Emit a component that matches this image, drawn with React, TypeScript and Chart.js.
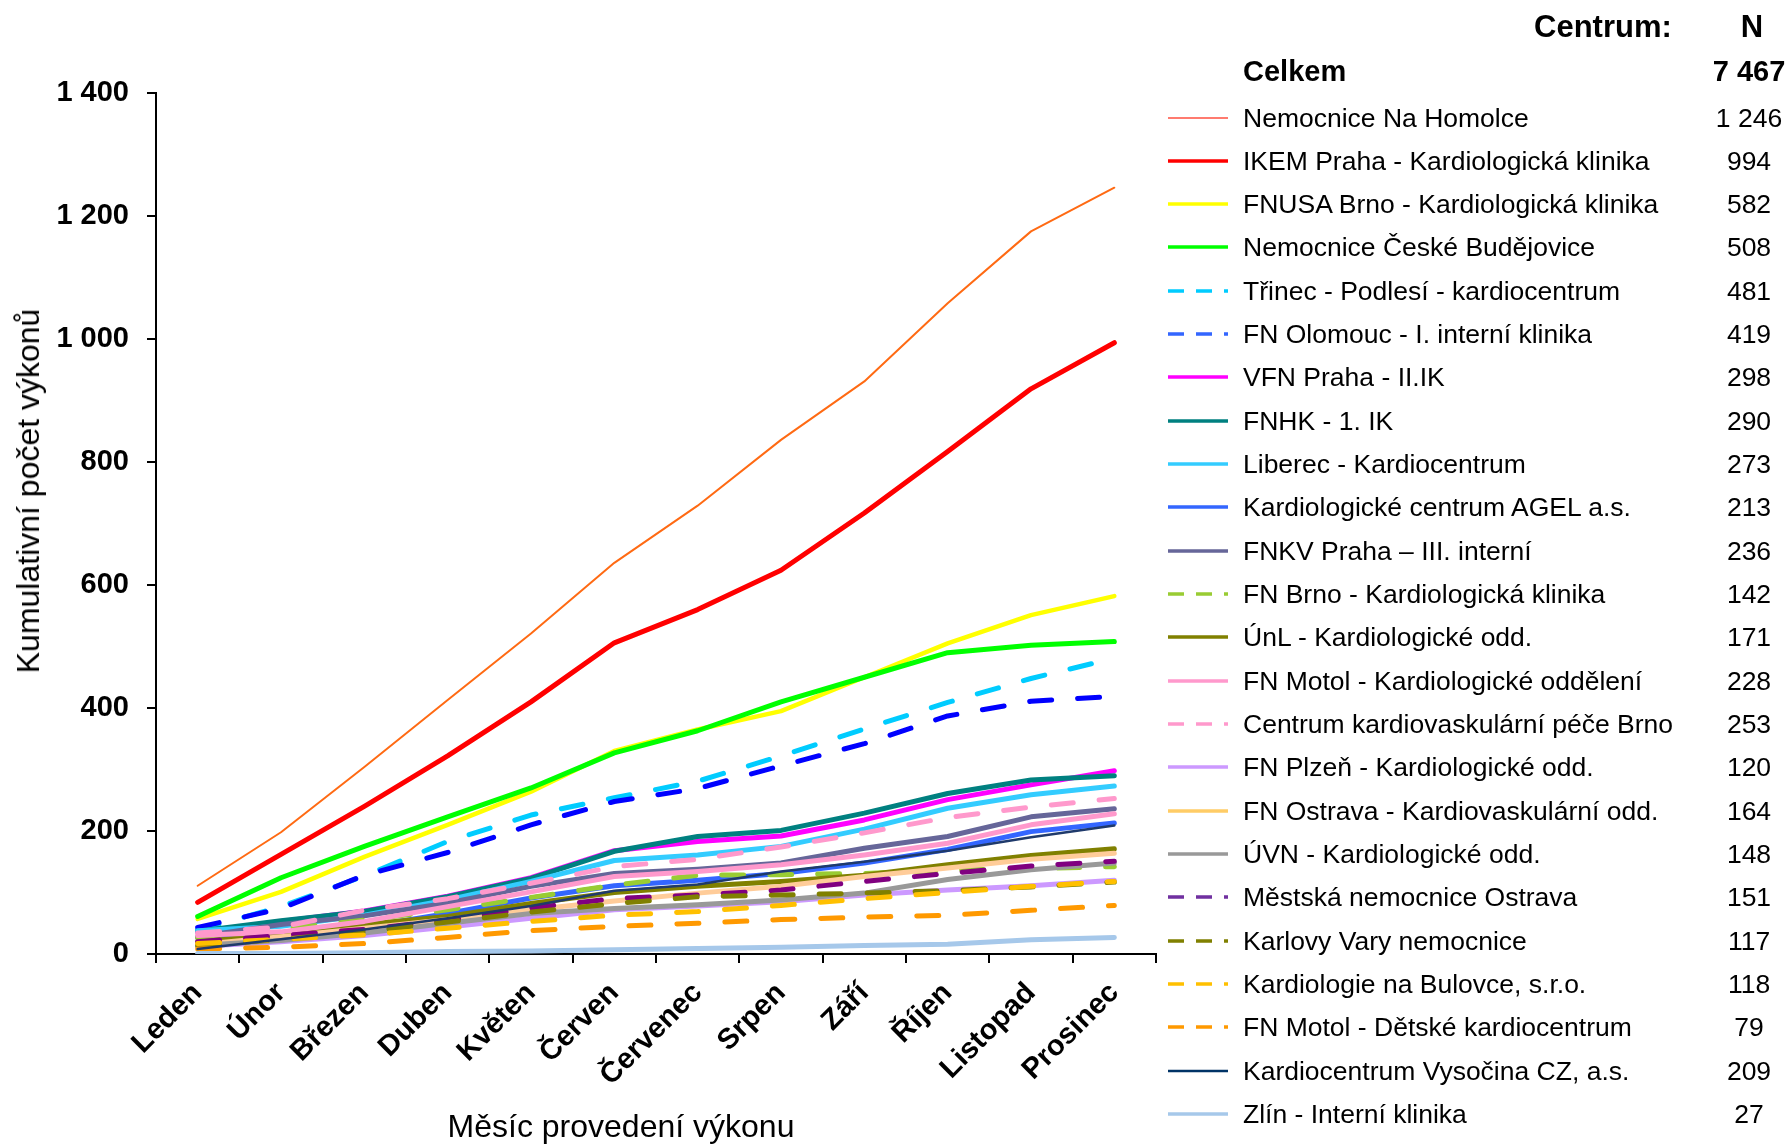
import React, { useEffect, useRef } from "react";
import { Chart, registerables } from "chart.js";

Chart.register(...registerables);

const FONT = '"Liberation Sans", Arial, Helvetica, sans-serif';

// ---------- data ----------
const months = ["Leden", "Únor", "Březen", "Duben", "Květen", "Červen", "Červenec", "Srpen", "Září", "Říjen", "Listopad", "Prosinec"];

const yTickValues = [0, 200, 400, 600, 800, 1000, 1200, 1400];

const centerNames = [
  "Nemocnice Na Homolce",
  "IKEM Praha - Kardiologická klinika",
  "FNUSA Brno - Kardiologická klinika",
  "Nemocnice České Budějovice",
  "Třinec - Podlesí - kardiocentrum",
  "FN Olomouc - I. interní klinika",
  "VFN Praha - II.IK",
  "FNHK - 1. IK",
  "Liberec - Kardiocentrum",
  "Kardiologické centrum AGEL a.s.",
  "FNKV Praha – III. interní",
  "FN Brno - Kardiologická klinika",
  "ÚnL - Kardiologické odd.",
  "FN Motol - Kardiologické oddělení",
  "Centrum kardiovaskulární péče Brno",
  "FN Plzeň - Kardiologické odd.",
  "FN Ostrava - Kardiovaskulární odd.",
  "ÚVN - Kardiologické odd.",
  "Městská nemocnice Ostrava",
  "Karlovy Vary nemocnice",
  "Kardiologie na Bulovce, s.r.o.",
  "FN Motol - Dětské kardiocentrum",
  "Kardiocentrum Vysočina CZ, a.s.",
  "Zlín - Interní klinika",
];

const centerTotals = [1246, 994, 582, 508, 481, 419, 298, 290, 273, 213, 236, 142, 171, 228, 253, 120, 164, 148, 151, 117, 118, 79, 209, 27];

const homolce = [111, 198, 304, 413, 521, 636, 729, 836, 931, 1058, 1175, 1246];
const ikem = [84, 162, 240, 322, 410, 506, 560, 624, 717, 817, 919, 994];
const fnusa = [57, 101, 158, 210, 264, 330, 365, 395, 450, 505, 551, 582];
const budejovice = [61, 124, 175, 223, 270, 327, 363, 410, 450, 490, 502, 508];
const trinec = [39, 77, 127, 183, 226, 254, 281, 322, 366, 409, 448, 481];
const olomouc = [43, 74, 128, 165, 210, 248, 269, 306, 342, 387, 411, 419];
const vfn = [35, 53, 70, 94, 124, 168, 183, 192, 218, 251, 275, 298];
const fnhk = [37, 54, 69, 93, 123, 167, 191, 201, 229, 261, 283, 290];
const liberec = [38, 45, 63, 88, 118, 152, 161, 175, 203, 237, 259, 273];
const agel = [26, 31, 44, 66, 91, 111, 120, 131, 148, 170, 199, 213];
const fnkv = [28, 48, 62, 83, 110, 131, 138, 148, 172, 191, 223, 236];
const fnBrno = [26, 40, 55, 72, 92, 112, 128, 129, 131, 136, 139, 142];
const unl = [19, 33, 48, 61, 82, 100, 110, 118, 128, 145, 160, 171];
const motol = [30, 36, 53, 77, 101, 126, 134, 145, 161, 180, 210, 228];
const ckpBrno = [34, 44, 71, 90, 115, 142, 154, 174, 197, 222, 239, 253];
const plzen = [12, 20, 30, 44, 58, 72, 78, 85, 96, 104, 111, 120];
const ostrava = [15, 28, 42, 56, 72, 86, 99, 110, 126, 140, 154, 164];
const uvn = [14, 22, 34, 50, 66, 74, 80, 88, 99, 121, 137, 148];
const mestska = [20, 30, 40, 55, 75, 90, 96, 104, 118, 131, 143, 151];
const karlovyVary = [13, 24, 36, 52, 68, 82, 93, 96, 99, 103, 109, 117];
const bulovka = [17, 24, 31, 42, 53, 63, 69, 79, 90, 100, 110, 118];
const motolDetske = [8, 11, 17, 27, 38, 45, 50, 56, 60, 63, 71, 79];
const vysocina = [8, 24, 40, 58, 78, 103, 113, 134, 150, 168, 190, 209];
const zlin = [1, 1, 2, 4, 5, 7, 9, 11, 14, 16, 23, 27];

const seriesValues = [
  homolce, ikem, fnusa, budejovice, trinec, olomouc, vfn, fnhk, liberec, agel, fnkv, fnBrno,
  unl, motol, ckpBrno, plzen, ostrava, uvn, mestska, karlovyVary, bulovka, motolDetske, vysocina, zlin,
];

// ---------- styles (separate from data) ----------
type Style = { color: string; legendColor?: string; width: number; legendWidth: number; dashed: boolean };
const seriesStyles: Style[] = [
  { color: "#FF6A13", legendColor: "#FF4F3F", width: 2, legendWidth: 1.6, dashed: false },
  { color: "#FF0000", width: 5, legendWidth: 3.6, dashed: false },
  { color: "#FFFF00", width: 4.5, legendWidth: 3.6, dashed: false },
  { color: "#00FF00", width: 5, legendWidth: 3.6, dashed: false },
  { color: "#00CCFF", width: 5, legendWidth: 3.6, dashed: true },
  { color: "#0000FF", legendColor: "#3366FF", width: 5, legendWidth: 3.6, dashed: true },
  { color: "#FF00FF", width: 5, legendWidth: 3.6, dashed: false },
  { color: "#008080", width: 5, legendWidth: 3.6, dashed: false },
  { color: "#33CCFF", width: 5, legendWidth: 3.6, dashed: false },
  { color: "#3366FF", width: 5, legendWidth: 3.6, dashed: false },
  { color: "#666699", width: 5, legendWidth: 3.6, dashed: false },
  { color: "#99CC33", width: 5, legendWidth: 3.6, dashed: true },
  { color: "#808000", width: 5, legendWidth: 3.6, dashed: false },
  { color: "#FF99CC", width: 5, legendWidth: 3.6, dashed: false },
  { color: "#FF99CC", width: 5, legendWidth: 3.6, dashed: true },
  { color: "#CC99FF", width: 5, legendWidth: 3.6, dashed: false },
  { color: "#FFCC99", legendColor: "#FFCC66", width: 5, legendWidth: 3.6, dashed: false },
  { color: "#999999", width: 5, legendWidth: 3.6, dashed: false },
  { color: "#800080", legendColor: "#7030A0", width: 5, legendWidth: 3.6, dashed: true },
  { color: "#808000", width: 5, legendWidth: 3.6, dashed: true },
  { color: "#FFC000", width: 5, legendWidth: 3.6, dashed: true },
  { color: "#FF9900", width: 5, legendWidth: 3.6, dashed: true },
  { color: "#1F3A6B", legendColor: "#003366", width: 2.5, legendWidth: 2.4, dashed: false },
  { color: "#A6C8EA", width: 5, legendWidth: 3.6, dashed: false },
];

const fmt = (n: number) => String(n).replace(/\B(?=(\d{3})+(?!\d))/g, " ");

// ---------- layout constants ----------
const W = 1788;
const H = 1144;
const PLOT_LEFT = 156;
const PLOT_RIGHT = 1156;
const PLOT_TOP = 93;
const PLOT_BOTTOM = 954;

const LEG_LINE_X = 1168;
const LEG_LINE_W = 60;
const LEG_TEXT_X = 1243;
const LEG_NUM_CX = 1749;
const LEG_ROW0 = 117.5;
const LEG_STEP = 43.33;

function LegendSample({ s }: { s: Style }) {
  const c = s.legendColor || s.color;
  return (
    <svg width={LEG_LINE_W} height={10} style={{ position: "absolute", left: LEG_LINE_X, top: -5, overflow: "visible" }}>
      <line
        x1={0}
        y1={5}
        x2={LEG_LINE_W}
        y2={5}
        stroke={c}
        strokeWidth={s.legendWidth}
        strokeDasharray={s.dashed ? "16 12" : undefined}
      />
    </svg>
  );
}

export default function App() {
  const canvasRef = useRef<HTMLCanvasElement | null>(null);

  useEffect(() => {
    const canvas = canvasRef.current;
    if (!canvas) return;
    const n = seriesValues.length;
    const datasets = seriesValues.map((vals, i) => {
      const s = seriesStyles[i];
      return {
        label: centerNames[i],
        data: vals,
        borderColor: s.color,
        backgroundColor: s.color,
        borderWidth: s.width,
        borderDash: s.dashed ? [22, 26] : [],
        borderCapStyle: "round" as const,
        borderJoinStyle: "round" as const,
        pointRadius: 0,
        pointHoverRadius: 0,
        tension: 0,
        fill: false,
        order: n - i,
      };
    });

    const chart = new Chart(canvas, {
      type: "line",
      data: { labels: months, datasets },
      options: {
        responsive: false,
        maintainAspectRatio: false,
        animation: false,
        devicePixelRatio: 1,
        layout: { padding: { top: PLOT_TOP, right: W - PLOT_RIGHT, left: 0, bottom: 0 } },
        plugins: { legend: { display: false }, tooltip: { enabled: false }, title: { display: false } },
        scales: {
          x: {
            type: "category",
            offset: true,
            grid: {
              display: true,
              offset: true,
              drawOnChartArea: false,
              drawTicks: true,
              tickLength: 9,
              tickWidth: 2,
              color: "#000",
              lineWidth: 2,
            },
            border: { display: true, color: "#000", width: 2 },
            ticks: {
              color: "#000",
              font: { family: FONT, size: 29, weight: "bold" },
              maxRotation: 45,
              minRotation: 45,
              autoSkip: false,
              padding: 13,
            },
            afterFit: (scale: any) => {
              scale.height = H - PLOT_BOTTOM;
            },
          },
          y: {
            min: 0,
            max: 1400,
            afterBuildTicks: (scale: any) => {
              scale.ticks = yTickValues.map((v) => ({ value: v }));
            },
            grid: {
              display: true,
              drawOnChartArea: false,
              drawTicks: true,
              tickLength: 9,
              tickWidth: 2,
              color: "#000",
              lineWidth: 2,
            },
            border: { display: true, color: "#000", width: 2 },
            ticks: {
              color: "#000",
              font: { family: FONT, size: 29, weight: "bold" },
              padding: 18,
              callback: (v: any) => fmt(Number(v)),
            },
            afterFit: (scale: any) => {
              scale.width = PLOT_LEFT;
            },
          },
        },
      } as any,
    });
    return () => chart.destroy();
  }, []);

  const textBase: React.CSSProperties = {
    position: "absolute",
    fontFamily: FONT,
    color: "#000",
    whiteSpace: "nowrap",
  };

  return (
    <div style={{ position: "absolute", left: 0, top: 0, width: W, height: H, overflow: "hidden", background: "#fff" }}>
      <canvas ref={canvasRef} width={W} height={H} style={{ position: "absolute", left: 0, top: 0, width: W, height: H }} />

      {/* axis titles */}
      <div
        style={{
          ...textBase,
          left: 28,
          top: 491,
          fontSize: 32,
          lineHeight: "32px",
          transform: "translate(-50%, -50%) rotate(-90deg)",
        }}
      >
        Kumulativní počet výkonů
      </div>
      <div
        style={{
          ...textBase,
          left: 621,
          top: 1125.5,
          fontSize: 32,
          lineHeight: "32px",
          transform: "translate(-50%, -50%)",
        }}
      >
        Měsíc provedení výkonu
      </div>

      {/* legend header */}
      <div style={{ ...textBase, left: 1534, top: 26, fontSize: 31, fontWeight: "bold", lineHeight: "31px", transform: "translateY(-50%)" }}>
        Centrum:
      </div>
      <div style={{ ...textBase, left: 1752, top: 26, fontSize: 31, fontWeight: "bold", lineHeight: "31px", transform: "translate(-50%, -50%)" }}>
        N
      </div>
      <div style={{ ...textBase, left: LEG_TEXT_X, top: 70.7, fontSize: 29, fontWeight: "bold", lineHeight: "29px", transform: "translateY(-50%)" }}>
        Celkem
      </div>
      <div style={{ ...textBase, left: LEG_NUM_CX, top: 70.7, fontSize: 29, fontWeight: "bold", lineHeight: "29px", transform: "translate(-50%, -50%)" }}>
        {fmt(centerTotals.reduce((a, b) => a + b, 0))}
      </div>

      {/* legend rows */}
      {centerNames.map((name, i) => {
        const cy = LEG_ROW0 + i * LEG_STEP;
        return (
          <div key={name} style={{ position: "absolute", left: 0, top: cy, width: W, height: 0 }}>
            <LegendSample s={seriesStyles[i]} />
            <div style={{ ...textBase, left: LEG_TEXT_X, top: 0, fontSize: 26.5, lineHeight: "26.5px", transform: "translateY(-50%)" }}>
              {name}
            </div>
            <div style={{ ...textBase, left: LEG_NUM_CX, top: 0, fontSize: 26.5, lineHeight: "26.5px", transform: "translate(-50%, -50%)" }}>
              {fmt(centerTotals[i])}
            </div>
          </div>
        );
      })}
    </div>
  );
}
